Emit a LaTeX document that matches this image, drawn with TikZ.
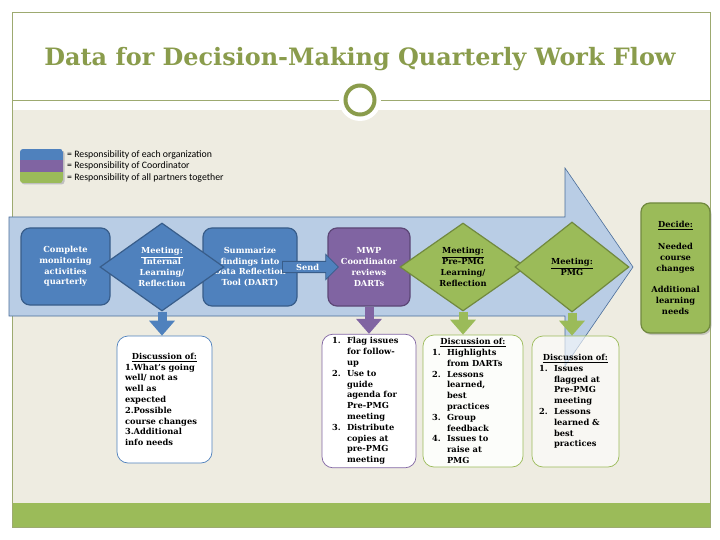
\documentclass[tikz,border=0pt]{standalone}
\usepackage{fontspec}
\setmainfont{DejaVu Serif}
\newfontfamily\legfont{Carlito}
\usetikzlibrary{shapes.geometric,shapes.arrows,arrows.meta,shadows}
\definecolor{blueF}{HTML}{4F81BD}
\definecolor{blueD}{HTML}{385D8A}
\definecolor{purpleF}{HTML}{8064A2}
\definecolor{purpleD}{HTML}{5C4776}
\definecolor{greenF}{HTML}{9BBB59}
\definecolor{greenD}{HTML}{71893F}
\definecolor{arrowF}{HTML}{B9CDE5}
\definecolor{arrowD}{HTML}{4A6D9A}
\definecolor{beige}{HTML}{EEECE1}
\definecolor{olive}{HTML}{8A9C4C}
\definecolor{frameC}{HTML}{9DAA70}
\newcommand\li[1]{\makebox[15pt][l]{#1}}
\newcommand\ind{\hspace*{15pt}}
\newcommand\hdr{\makebox[\linewidth]{\underline{Discussion of:}}}
\begin{document}
\begin{tikzpicture}[x=1pt,y=-1pt,
  txt/.style={font=\fontsize{8.3}{10.8}\selectfont\bfseries},
  bluebox/.style={txt, rectangle, rounded corners=9pt, fill=blueF, draw=blueD, line width=1.2pt, text=white, align=center},
  purplebox/.style={txt, rectangle, rounded corners=9pt, fill=purpleF, draw=purpleD, line width=1.2pt, text=white, align=center},
  dia/.style={diamond, inner sep=0pt, line width=1.2pt},
  disc/.style={txt, rectangle, rounded corners=11pt, fill=white, line width=0.7pt, align=left, text=black},
  downarrow/.style={line width=9pt, -{Triangle[width=25pt,length=15pt]}},
  legtxt/.style={font=\legfont\fontsize{9.8}{11}\selectfont, anchor=west, inner sep=0pt}
]
\useasboundingbox (0,0) rectangle (720,540);
\fill[white] (0,0) rectangle (720,540);
% frame
\fill[beige] (12,110) rectangle (710,503);
\fill[greenF] (12,503) rectangle (710,527);
\draw[frameC, line width=0.8pt] (12,12) rectangle (710,527);
\draw[frameC, line width=0.8pt] (12,100) -- (710,100);
\fill[white] (360,100) circle (21pt);
\draw[olive, line width=4pt] (360,100) circle (14.5pt);
\node[font=\bfseries, text=olive, inner sep=0pt] (title) at (360,59)
  {\resizebox{631pt}{!}{Data for Decision-Making Quarterly Work Flow}};
% legend
\fill[black!25, rounded corners=3pt] (21.5,150.5) rectangle (64.5,184.5);
\begin{scope}
\clip[rounded corners=3pt] (20,149) rectangle (63,183);
\fill[blueF] (20,149) rectangle (63,160.5);
\fill[purpleF] (20,160.5) rectangle (63,172);
\fill[greenF] (20,172) rectangle (63,183);
\end{scope}
\node[legtxt] (leg1) at (67,154.5) {= Responsibility of each organization};
\node[legtxt] (leg2) at (67,166) {= Responsibility of Coordinator};
\node[legtxt] (leg3) at (67,177.5) {= Responsibility of all partners together};
% big arrow
\draw[fill=arrowF, draw=arrowD, line width=0.6pt] (9,217) -- (565,217) -- (565,168) -- (633,267) -- (565,366) -- (565,316) -- (9,316) -- cycle;
% process nodes
\node[bluebox, minimum width=89, minimum height=77] (complete) at (65.5,266.5) {Complete\\monitoring\\activities\\quarterly};
\node[bluebox, minimum width=94, minimum height=78] (summ) at (250,267) {Summarize\\findings into\\Data Reflection\\Tool (DART)};
\node[purplebox, minimum width=82, minimum height=78] (mwp) at (369,267) {MWP\\Coordinator\\reviews\\DARTs};
\node[dia, fill=blueF, draw=blueD, minimum width=124, minimum height=88] (d1) at (162,267) {};
\node[txt, text=white, align=center] (d1t) at (d1.center) {\underline{Meeting:}\\Internal\\Learning/\\Reflection};
\node[dia, fill=greenF, draw=greenD, minimum width=126, minimum height=88] (d2) at (463,267) {};
\node[txt, text=black, align=center] (d2t) at (d2.center) {\underline{Meeting:}\\Pre-PMG\\Learning/\\Reflection};
\node[dia, fill=greenF, draw=greenD, minimum width=114, minimum height=90] (d3) at (572,267) {};
\node[txt, text=black, align=center] (d3t) at (d3.center) {\underline{Meeting:}\\PMG};
\node[single arrow, anchor=tail, fill=blueF, draw=blueD, line width=0.8pt, single arrow head extend=7pt, minimum height=56pt, inner sep=2pt, txt, text=white] (send) at (282,267) {Send};
\node[txt, rectangle, rounded corners=9pt, fill=greenF, draw=greenD, line width=1.2pt, align=center, minimum width=69, minimum height=130,
  drop shadow={shadow xshift=1.5pt, shadow yshift=-2pt, opacity=0.35}] (decide) at (675.5,268)
  {\underline{Decide:}\\[10.8pt]Needed\\course\\changes\\[10.8pt]Additional\\learning\\needs};
% discussion boxes
\node[disc, draw=blueF, minimum width=95, minimum height=127, text width=79, inner xsep=8pt] (discA) at (164.5,399.5)
  {\hdr\\1.What's going\\well/ not as\\well as\\expected\\2.Possible\\course changes\\3.Additional\\info needs};
\node[disc, draw=purpleF, minimum width=94, minimum height=132, text width=74, inner xsep=10pt] (discB) at (369,401)
  {\li{1.}Flag issues\\\ind for follow-\\\ind up\\\li{2.}Use to\\\ind guide\\\ind agenda for\\\ind Pre-PMG\\\ind meeting\\\li{3.}Distribute\\\ind copies at\\\ind pre-PMG\\\ind meeting};
\node[disc, draw=greenF, fill=white!97!greenF, minimum width=100, minimum height=132, text width=82, inner xsep=9pt] (discC) at (473,401)
  {\hdr\\\li{1.}Highlights\\\ind from DARTs\\\li{2.}Lessons\\\ind learned,\\\ind best\\\ind practices\\\li{3.}Group\\\ind feedback\\\li{4.}Issues to\\\ind raise at\\\ind PMG};
\node[disc, draw=greenF, fill opacity=0.6, text opacity=1, minimum width=87, minimum height=131, text width=73, inner xsep=7pt] (discD) at (575.5,401.5)
  {\hdr\\\li{1.}Issues\\\ind flagged at\\\ind Pre-PMG\\\ind meeting\\\li{2.}Lessons\\\ind learned \&\\\ind best\\\ind practices};
% down arrows
\draw[downarrow, blueF] (d1.south) -- (d1.south |- discA.north);
\draw[downarrow, purpleF] (mwp.south) -- (mwp.south |- discB.north);
\draw[downarrow, greenF] (d2.south) -- (d2.south |- discC.north);
\draw[downarrow, greenF] (d3.south) -- (d3.south |- discD.north);
\end{tikzpicture}
\end{document}
